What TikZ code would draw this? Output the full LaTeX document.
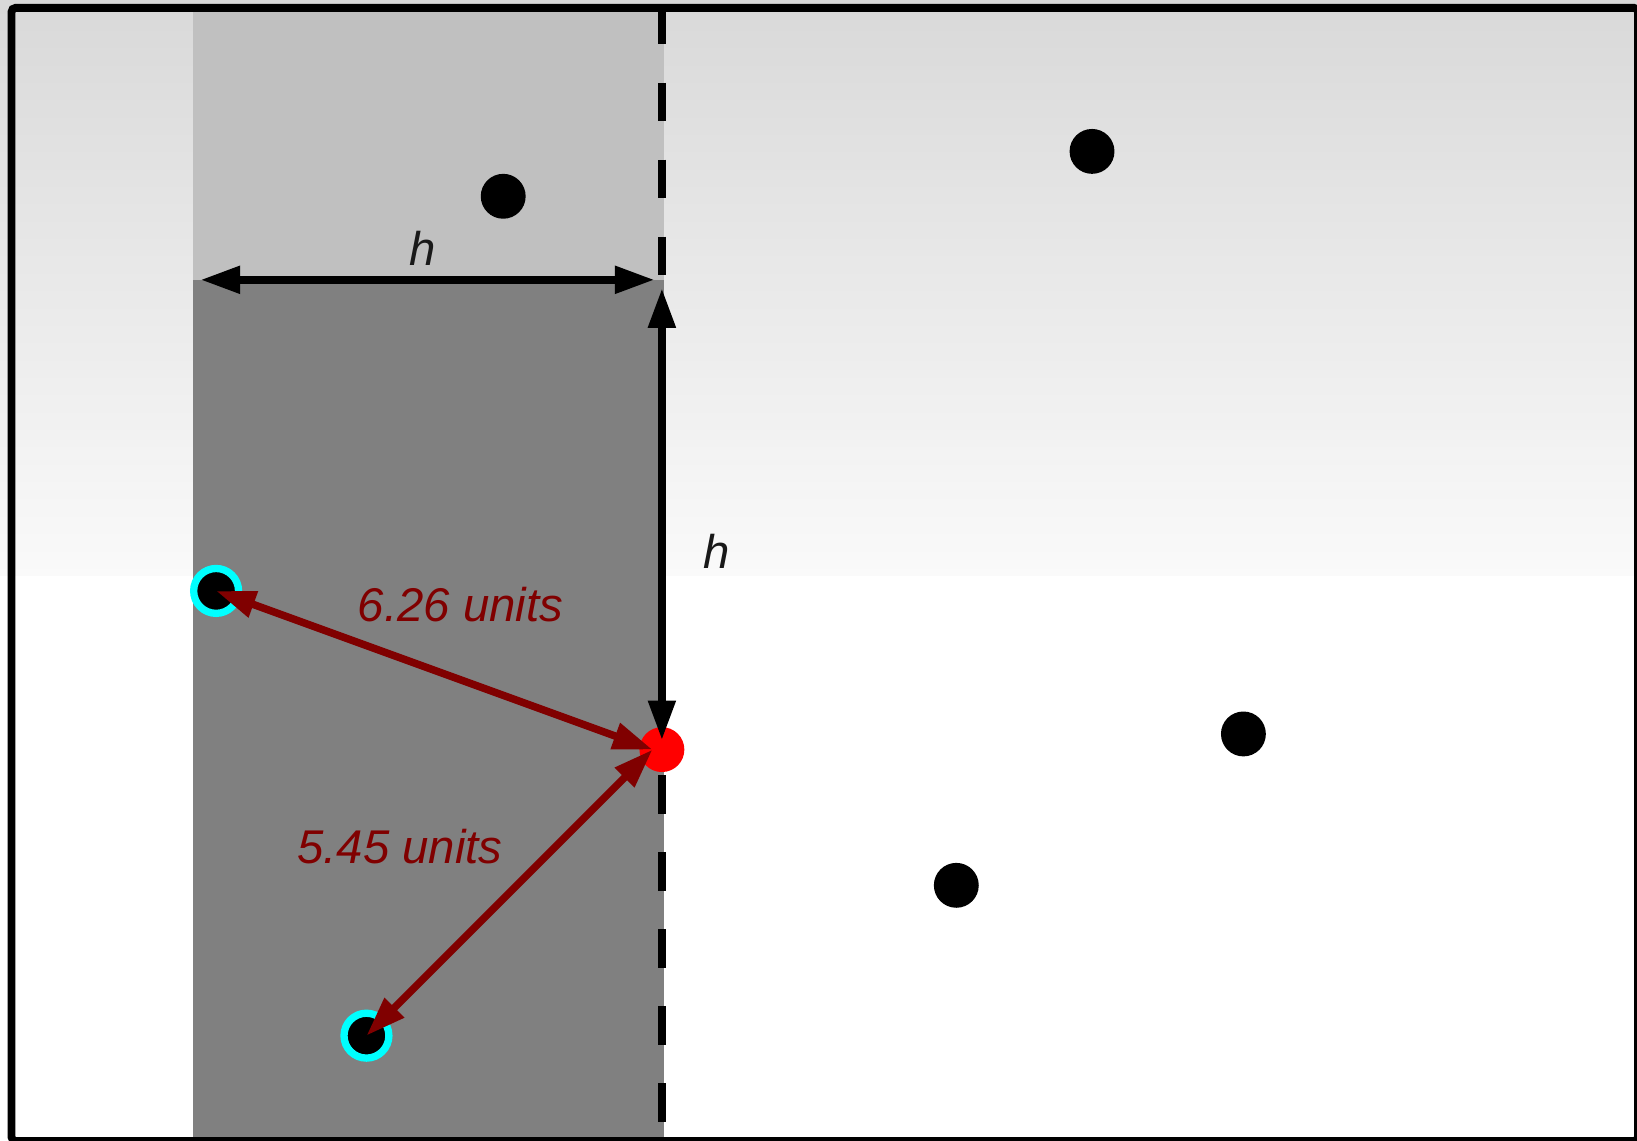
\documentclass[tikz,border=0pt]{standalone}
\usepackage{fontspec}
\setmainfont{Liberation Sans}
\usepackage{xcolor}
\usepackage{tikz}
\usetikzlibrary{arrows.meta}
\definecolor{distred}{HTML}{800000}
\definecolor{bandlight}{HTML}{C0C0C0}
\definecolor{banddark}{HTML}{808080}
\definecolor{ringcyan}{HTML}{00FFFF}
\definecolor{hitred}{HTML}{FF0000}

\begin{document}
\begin{tikzpicture}[
  x=0.1mm, y=-0.1mm,
  dot/.style={circle, fill=black, inner sep=0pt, minimum size=4.3mm},
  hitdot/.style={dot, fill=hitred},
  nbr/.style={dot, draw=ringcyan, line width=0.7mm},
  dim/.style={{Triangle[length=3.8mm,width=2.5mm]}-{Triangle[length=3.8mm,width=2.5mm]},
              line width=0.75mm},
  dist/.style={dim, color=distred, line width=0.72mm},
  lbl/.style={font=\fontsize{12.9}{15}\selectfont\itshape, inner sep=0pt, text=black!90},
]
\useasboundingbox (0,0) rectangle (1568,1092);
\fill[white] (0,0) rectangle (1568,1092);
\shade[top color=black!15, bottom color=black!2] (0,0) rectangle (1568,551);
\fill[bandlight] (184.5,7) rectangle (636,268);
\fill[banddark] (184.5,268) rectangle (636,1092);
\draw[line width=0.75mm, dash pattern=on 3.7mm off 3.67mm] (634,5.6) -- (634,1092);
\draw[line width=0.75mm, rounded corners=0.4mm] (11,7.5) rectangle (1569,1093);

\node[dot] (p1) at (482,188) {};
\node[dot] (p2) at (1046,145) {};
\node[dot] (p3) at (1191,703) {};
\node[dot] (p4) at (916,848) {};
\node[nbr] (n1) at (207,566) {};
\node[nbr] (n2) at (351,992) {};
\node[hitdot] (q) at (634,718) {};

\coordinate (hit) at (625,718);
\coordinate (wl) at (192,268);
\coordinate (wr) at (627,268);
\coordinate (vt) at (634,276);
\coordinate (vb) at (634,709);

\draw[dim] (wl) -- (wr);
\draw[dim] (vt) -- (vb);
\draw[dist] (hit) -- (n1.center);
\draw[dist] (hit) -- (n2.center);

\node[lbl] (hw) at (405,238) {h};
\node[lbl] (hv) at (686,528) {h};
\node[lbl, text=distred] (d1) at (441,579) {6.26 units};
\node[lbl, text=distred] (d2) at (383,811) {5.45 units};
\end{tikzpicture}
\end{document}
